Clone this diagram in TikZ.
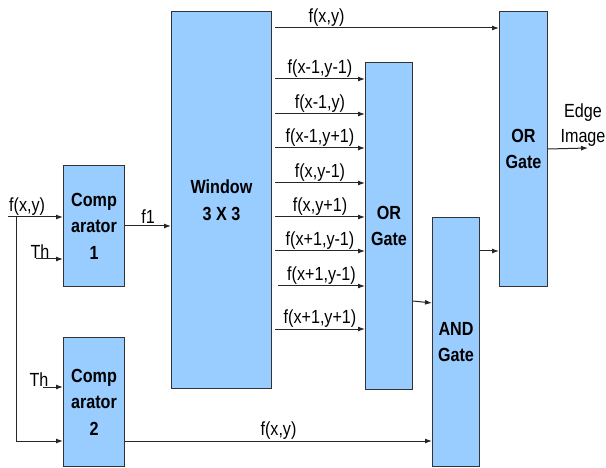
\documentclass[tikz,border=0pt]{standalone}
\usepackage{fontspec}
\setmainfont[FakeStretch=0.85]{Liberation Sans}
\usetikzlibrary{positioning,arrows.meta,calc}
\definecolor{blkfill}{HTML}{99CCFF}
\tikzset{
  blk/.style={rectangle,draw=black!80,fill=blkfill,line width=1pt,anchor=north west,
    align=center,inner sep=0pt,font=\fontsize{19}{26.5}\selectfont\bfseries},
  lbl/.style={inner sep=1.5pt,font=\fontsize{19}{22}\selectfont},
  sig/.style={-{Latex[length=7pt,width=5pt]},line width=1pt,draw=black!85},
}

\begin{document}
\begin{tikzpicture}[x=1pt,y=-1pt]
  \useasboundingbox (0,0) rectangle (606,468);
  % blocks
  \node[blk,minimum width=61pt,minimum height=121pt] (cmp1) at (63,165) {Comp\\arator\\1};
  \node[blk,minimum width=61pt,minimum height=129pt] (cmp2) at (63,337) {Comp\\arator\\2};
  \node[blk,minimum width=100pt,minimum height=377pt] (win) at (171,11) {Window\\3 X 3};
  \node[blk,minimum width=47pt,minimum height=327pt] (or1) at (365,62) {OR\\Gate};
  \node[blk,minimum width=47pt,minimum height=249pt] (andg) at (432,217) {AND\\Gate};
  \node[blk,minimum width=48pt,minimum height=275pt] (or2) at (499,11) {OR\\Gate};

  % inputs
  \coordinate (fin) at (8,217);
  \coordinate (fork) at (16,217);
  \coordinate (c2in) at (16,441);
  \coordinate (th1) at (36,259);
  \coordinate (th2) at (43,387);
  \node[lbl,anchor=south west,inner sep=1pt] (fxyl) at (fin) {f(x,y)};
  \node[lbl,anchor=south,inner sep=0pt] (thl1) at ($(th1)+(4,0)$) {Th};
  \node[lbl,anchor=south,inner sep=0pt] (thl2) at ($(th2)+(-4,0)$) {Th};
  \draw[sig] (fin) -- (cmp1.west |- fin);
  \draw[sig] (th1) -- (cmp1.west |- th1);
  \draw[sig] (th2) -- (cmp2.west |- th2);
  \draw[sig] (fork) |- (cmp2.west |- c2in);

  % comparators
  \draw[sig] (cmp1.east) -- (win.west |- cmp1.east) node[lbl,midway,above] {f1};
  \draw[sig] (cmp2.east |- c2in) -- (andg.west |- c2in) node[lbl,midway,above] {f(x,y)};

  % window outputs
  \coordinate (wtop) at (275,28);
  \draw[sig] (wtop) -- (or2.west |- wtop) node[lbl,pos=0.23,above] {f(x,y)};
  \draw[sig] (275,79) -- (or1.west |- 0,79) node[lbl,midway,above] {f(x-1,y-1)};
  \draw[sig] (275,114) -- (or1.west |- 0,114) node[lbl,midway,above] {f(x-1,y)};
  \draw[sig] (275,148) -- (or1.west |- 0,148) node[lbl,midway,above] {f(x-1,y+1)};
  \draw[sig] (275,183) -- (or1.west |- 0,183) node[lbl,midway,above] {f(x,y-1)};
  \draw[sig] (275,217) -- (or1.west |- 0,217) node[lbl,midway,above] {f(x,y+1)};
  \draw[sig] (275,251) -- (or1.west |- 0,251) node[lbl,midway,above] {f(x+1,y-1)};
  \draw[sig] (278,286) -- (or1.west |- 0,286) node[lbl,midway,above] {f(x+1,y-1)};
  \draw[sig] (275,329) -- (or1.west |- 0,329) node[lbl,midway,above] {f(x+1,y+1)};

  % gates
  \draw[sig] (or1.east |- 0,301) -- (andg.west |- 0,303);
  \draw[sig] (andg.east |- 0,251) -- (or2.west |- 0,251);
  \coordinate (eout) at (588,148);
  \draw[sig] (or2.east) -- (eout);
  \node[lbl,align=center,anchor=south,font=\fontsize{19}{25}\selectfont] (elbl) at (583,148) {Edge\\Image};
\end{tikzpicture}
\end{document}
